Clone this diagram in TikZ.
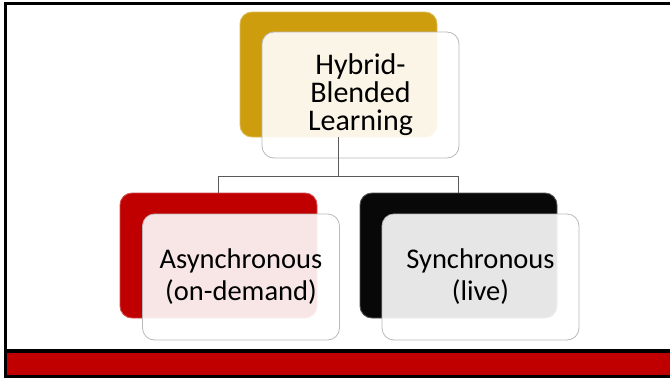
\documentclass[tikz,border=0pt]{standalone}
\usepackage{fontspec}
\setmainfont{Carlito}
\definecolor{goldback}{RGB}{206,157,14}
\definecolor{redback}{RGB}{192,0,0}
\definecolor{blackback}{RGB}{8,8,8}
\definecolor{frontedge}{RGB}{185,185,185}
\definecolor{linkgray}{RGB}{90,90,90}
\tikzset{
  backbox/.style={draw=#1!70!white, line width=0.9pt, fill=#1, rounded corners=12pt,
    minimum width=197pt, minimum height=125pt, inner sep=0pt},
  frontbox/.style={draw=frontedge, line width=0.8pt, fill=white, fill opacity=0.9,
    text opacity=1, rounded corners=12pt, minimum width=197pt, minimum height=126pt,
    inner sep=0pt, align=center},
  toptext/.style={font=\fontsize{30}{28}\selectfont},
  lowtext/.style={font=\fontsize{28.5}{32}\selectfont},
  link/.style={draw=linkgray, line width=0.9pt},
}
\begin{document}
\begin{tikzpicture}[x=1pt, y=-1pt]
  \useasboundingbox (0,0) rectangle (670,378);
  % slide frame: top and left rules, red footer band
  \fill[black] (4,2) rectangle (670,5);
  \fill[black] (4,2) rectangle (7,378);
  \fill[black] (4,349) rectangle (670,377.5);
  \fill[redback] (7,352.5) rectangle (670,375);

  % coloured back plates
  \node[backbox=goldback] (topback) at (338.5,74.5) {};
  \node[backbox=redback] (asyncback) at (218.5,255.5) {};
  \node[backbox=blackback] (syncback) at (458.5,255.5) {};

  % translucent front cards with the labels
  \node[frontbox, toptext] (topfront) at (360.5,95) {Hybrid-\\Blended\\Learning};
  \node[frontbox, lowtext] (asyncfront) at (241,277) {Asynchronous\\(on-demand)};
  \node[frontbox, lowtext] (syncfront) at (480.5,277) {Synchronous\\(live)};

  % tree connectors
  \coordinate (split) at (338.5,176);
  \draw[link] (topback.south) -- (split) -| (asyncback.north);
  \draw[link] (split) -| (syncback.north);
\end{tikzpicture}
\end{document}
